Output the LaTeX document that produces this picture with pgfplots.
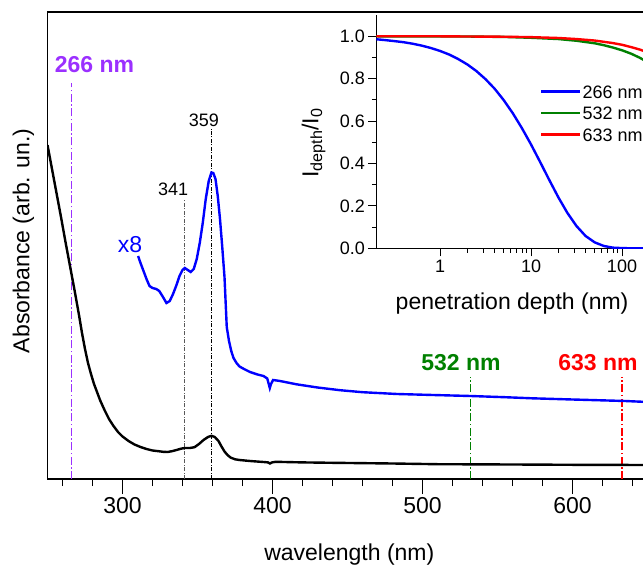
\documentclass[border=0pt]{standalone}
\usepackage{pgfplots}
\pgfplotsset{compat=1.18}
\usepackage{fontspec}
\setmainfont{Liberation Sans}

\definecolor{violetline}{RGB}{155,48,255}
\definecolor{greenline}{RGB}{0,128,0}
\definecolor{redline}{RGB}{255,0,0}
\definecolor{blueline}{RGB}{0,0,255}

\newcommand{\bigfont}{\fontsize{23bp}{27bp}\selectfont}
\newcommand{\smallfont}{\fontsize{18bp}{21bp}\selectfont}

\begin{document}
\begin{tikzpicture}
\useasboundingbox (0,0) rectangle (643bp,565bp);
\clip (0,0) rectangle (643bp,565bp);

% main spectrum
\begin{axis}[
    at={(47.5bp,86bp)}, anchor=south west,
    scale only axis, width=600bp, height=467bp,
    xmin=250, xmax=650, ymin=0, ymax=4.67,
    xtick={300,400,500,600},
    minor xtick={260,280,320,340,360,380,420,440,460,480,520,540,560,580,620,640},
    ytick=\empty,
    tick align=outside, xtick pos=bottom,
    major tick length=15bp, minor tick length=7bp,
    every tick/.style={black, line width=1bp},
    axis line style={line width=1.1bp},
    /pgf/number format/assume math mode=true,
    tick label style={font=\bigfont},
    label style={font=\bigfont},
    xlabel={wavelength (nm)},
    ylabel={Absorbance (arb. un.)},
    xlabel style={at={(axis description cs:0.503,-0.162)}, anchor=center},
    ylabel style={at={(axis description cs:-0.040,0.51)}, anchor=center},
]
% marker lines
\addplot[color=violetline, line width=1.4bp, dash pattern=on 8bp off 2.5bp on 1.5bp off 2.5bp] coordinates {(266,0) (266,3.957)};
\addplot[color=black!65, line width=0.9bp, dash pattern=on 4bp off 1.5bp on 1bp off 1.5bp] coordinates {(341.5,0) (341.5,2.79)};
\addplot[color=black, line width=0.9bp, dash pattern=on 4bp off 1.5bp on 1bp off 1.5bp] coordinates {(359.3,0) (359.3,3.50)};
\addplot[color=greenline, line width=1.3bp, dash pattern=on 8bp off 2.5bp on 1.5bp off 2.5bp] coordinates {(532,0) (532,1.023)};
\addplot[color=redline, line width=1.3bp, dash pattern=on 8bp off 2.5bp on 1.5bp off 2.5bp] coordinates {(633,0) (633,1.023)};

% absorbance
\addplot[color=black, line width=2.4bp] coordinates {
(250,3.34) (253,3.10) (256,2.86) (259,2.62) (262,2.37) (265,2.13) (268,1.89)
(271,1.64) (273,1.46) (275,1.30) (277,1.16) (279,1.05) (281,0.95) (283,0.87)
(285,0.79) (288,0.69) (291,0.60) (294,0.53) (297,0.47) (300,0.425) (304,0.38)
(308,0.345) (312,0.32) (316,0.30) (320,0.285) (324,0.278) (327,0.272) (330,0.27)
(333,0.278) (336,0.29) (339,0.303) (341.5,0.31) (345,0.31) (348,0.318) (351,0.35)
(354,0.39) (357,0.42) (359.3,0.432) (361.5,0.42) (364,0.38) (366,0.325) (368,0.275)
(370,0.24) (372,0.215) (375,0.197) (378,0.19) (385,0.18) (394,0.17) (397,0.166)
(398.3,0.155) (399.5,0.165) (402,0.172) (420,0.166) (440,0.162) (480,0.155)
(510,0.148) (560,0.145) (600,0.142) (650,0.14)
};
% x8
\addplot[color=blueline, line width=2.4bp] coordinates {
(310.4,2.23) (312,2.16) (314,2.08) (316,2.00) (318,1.93) (320,1.91) (322.5,1.90)
(324.5,1.88) (327,1.82) (329.3,1.76) (331.5,1.78) (333.7,1.85) (336,1.94) (338,2.03)
(340,2.09) (341.5,2.11) (343.5,2.09) (345.5,2.07) (347.5,2.10) (349.5,2.20) (351.5,2.36)
(353.5,2.56) (355.5,2.80) (357.5,2.98) (359.3,3.065) (360.5,3.06) (362,3.00) (363.5,2.83)
(365,2.60) (366.5,2.32) (368,2.02) (369.5,1.52) (371,1.38) (372.5,1.28) (374,1.21)
(376,1.16) (378,1.125) (381,1.10) (385,1.07) (390,1.045) (394,1.03) (396.5,1.005)
(397.5,0.95) (398.2,0.91) (399,0.95) (400.4,0.99) (405,0.98) (416,0.947) (430,0.915)
(445,0.888) (460,0.868) (483,0.85) (507,0.84) (532,0.83) (555,0.818) (573,0.807)
(600,0.795) (635,0.78) (650,0.77)
};

\node[font=\bigfont\bfseries, text=violetline] at (axis cs:281.3,4.14) {266 nm};
\node[font=\bigfont\bfseries, text=greenline] at (axis cs:525.7,1.16) {532 nm};
\node[font=\bigfont\bfseries, text=redline] at (axis cs:617,1.16) {633 nm};
\node[font=\smallfont] at (axis cs:333.7,2.895) {341};
\node[font=\smallfont] at (axis cs:354.3,3.59) {359};
\node[font=\bigfont, text=blueline] at (axis cs:305,2.34) {x8};
\end{axis}

% inset: transmitted fraction
\begin{axis}[
    at={(376.4bp,316.7bp)}, anchor=south west,
    scale only axis, width=273bp, height=233.2bp,
    xmode=log, xmin=0.2, xmax=200, ymin=0, ymax=1.1,
    axis x line*=bottom, axis y line*=left,
    xtick={1,10,100}, xticklabels={1,10,100},
    ytick={0,0.2,0.4,0.6,0.8,1.0}, minor ytick={0.1,0.3,0.5,0.7,0.9},
    tick align=outside,
    major tick length=8bp, minor tick length=4.5bp,
    every tick/.style={black, line width=1bp},
    axis line style={line width=1.1bp},
    /pgf/number format/assume math mode=true,
    yticklabel style={/pgf/number format/.cd, fixed, fixed zerofill, precision=1},
    tick label style={font=\smallfont},
    label style={font=\bigfont},
    xlabel={penetration depth (nm)},
    ylabel={I\textsubscript{depth}/I\textsubscript{0}},
    xlabel style={at={(axis description cs:0.497,-0.239)}, anchor=center},
    ylabel style={at={(axis description cs:-0.23,0.452)}, anchor=center},
    legend style={draw=none, fill=none, at={(axis description cs:0.599,0.705)}, anchor=north west,
        font=\smallfont, inner sep=0pt, row sep=6.5bp,
        nodes={inner sep=1bp, text height=13bp, text depth=0bp}},
    legend cell align=left,
    legend image code/.code={\draw[#1] (0bp,0bp) -- (39bp,0bp);},
]
\addplot[color=blueline, line width=2.4bp] coordinates {
(0.2,0.986) (0.25,0.982) (0.32,0.977) (0.4,0.972) (0.5,0.965) (0.63,0.956) (0.79,0.945)
(1,0.931) (1.26,0.914) (1.58,0.893) (2,0.867) (2.51,0.836) (3.16,0.798) (3.98,0.753)
(5.01,0.699) (6.31,0.637) (7.94,0.567) (10,0.490) (12.6,0.407) (15.8,0.324) (20,0.240)
(25.1,0.167) (31.6,0.105) (39.8,0.058) (50.1,0.028) (63.1,0.011) (79.4,0.003)
(100,0.001) (126,0.0) (200,0.0)
};
\addplot[color=greenline, line width=2.4bp] coordinates {
(0.2,1.0) (1,0.999) (2,0.999) (3.16,0.998) (5.01,0.997) (10,0.993) (20,0.987)
(31.6,0.979) (50.1,0.967) (63.1,0.958) (79.4,0.947) (100,0.934) (126,0.918)
(158,0.898) (200,0.873)
};
\addplot[color=redline, line width=2.4bp] coordinates {
(0.2,1.0) (1,1.0) (2,0.999) (5.01,0.998) (10,0.996) (20,0.992) (31.6,0.987)
(50.1,0.980) (63.1,0.974) (79.4,0.968) (100,0.960) (126,0.949) (158,0.937) (200,0.921)
};
\legend{266 nm,532 nm,633 nm}
\end{axis}
\end{tikzpicture}
\end{document}
